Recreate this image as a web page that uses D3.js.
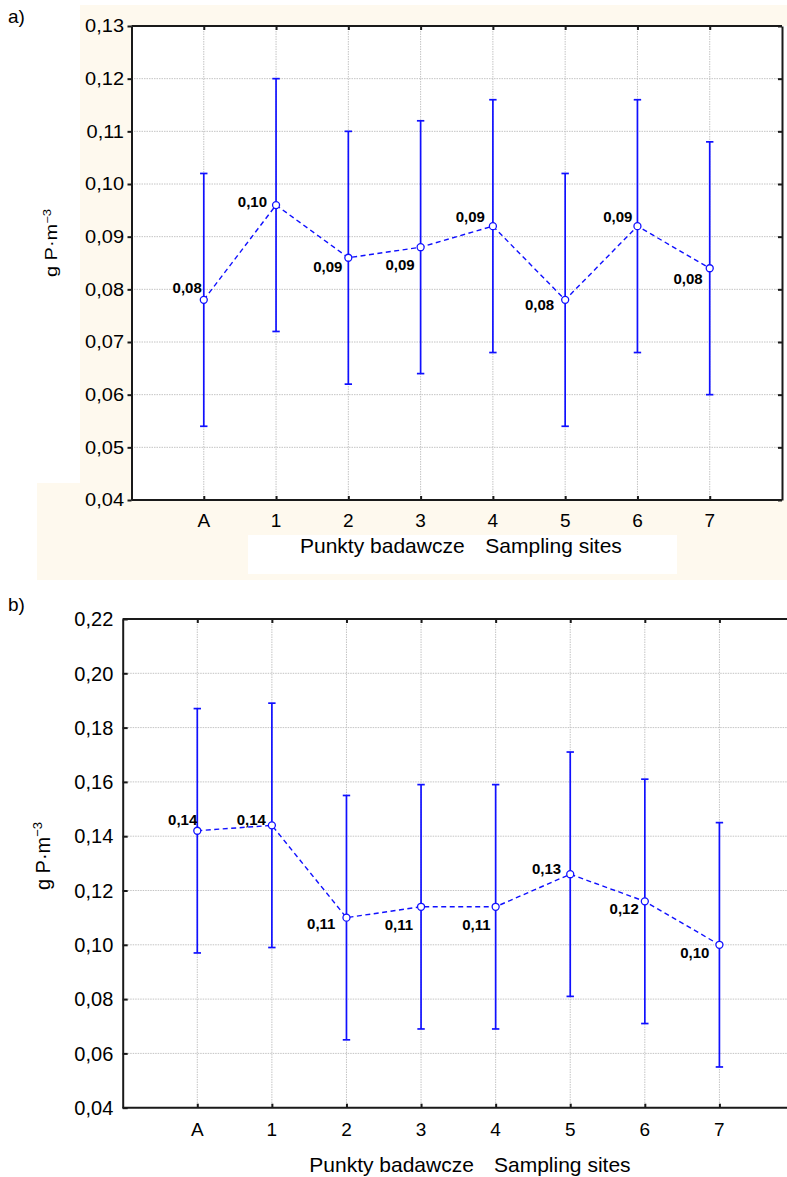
<!DOCTYPE html>
<html>
<head>
<meta charset="utf-8">
<script src="https://cdn.jsdelivr.net/npm/d3@7"></script>
<style>
  html, body { margin: 0; padding: 0; background: #ffffff; }
  svg { display: block; }
  text { font-family: "Liberation Sans", Arial, sans-serif; fill: #000; }
</style>
</head>
<body>
<svg id="chart" width="787" height="1177"></svg>
<script>
// ---------- data ----------
const categories = ["A", "1", "2", "3", "4", "5", "6", "7"];

const meansA = [0.078, 0.096, 0.086, 0.088, 0.092, 0.078, 0.092, 0.084];
const lowA   = [0.054, 0.072, 0.062, 0.064, 0.068, 0.054, 0.068, 0.060];
const highA  = [0.102, 0.120, 0.110, 0.112, 0.116, 0.102, 0.116, 0.108];
const pointLabelsA = ["0,08", "0,10", "0,09", "0,09", "0,09", "0,08", "0,09", "0,08"];
const yTicksA = [0.04, 0.05, 0.06, 0.07, 0.08, 0.09, 0.10, 0.11, 0.12, 0.13];

const meansB = [0.142, 0.144, 0.110, 0.114, 0.114, 0.126, 0.116, 0.100];
const lowB   = [0.097, 0.099, 0.065, 0.069, 0.069, 0.081, 0.071, 0.055];
const highB  = [0.187, 0.189, 0.155, 0.159, 0.159, 0.171, 0.161, 0.145];
const pointLabelsB = ["0,14", "0,14", "0,11", "0,11", "0,11", "0,13", "0,12", "0,10"];
const yTicksB = [0.04, 0.06, 0.08, 0.10, 0.12, 0.14, 0.16, 0.18, 0.20, 0.22];

const xTitlePL = "Punkty badawcze";
const xTitleEN = "Sampling sites";

// ---------- layout (label placement offsets, not data) ----------
const labelOffsetA = [[-2,-7],[-9,2],[-6,14],[-6,23],[-8,-4],[-11,10],[-5,-4],[-7,16]];
const labelOffsetB = [[0,-6],[-6,0],[-11,11],[-8,23],[-5,23],[-9,0],[-6,13],[-10,13]];

const BLUE = "#1010ff";
const CREAM = "#fef9ee";
const svg = d3.select("#chart");
const fmt = v => d3.format(".2f")(v).replace(".", ",");

// cream background for panel a
svg.append("rect").attr("x", 80).attr("y", 5).attr("width", 707).attr("height", 575).attr("fill", CREAM);
svg.append("rect").attr("x", 37).attr("y", 483).attr("width", 43).attr("height", 97).attr("fill", CREAM);
svg.append("rect").attr("x", 248).attr("y", 535).attr("width", 429).attr("height", 39).attr("fill", "#ffffff");

function panel(cfg) {
  const g = svg.append("g");
  const x = d3.scalePoint().domain(categories).range([cfg.left, cfg.right]).padding(1);
  const y = d3.scaleLinear().domain(cfg.yDomain).range([cfg.bottom, cfg.top]);
  const W = Math.min(cfg.right, 787);

  // white plot area
  g.append("rect").attr("x", cfg.left).attr("y", cfg.top)
    .attr("width", 787 - cfg.left).attr("height", cfg.bottom - cfg.top).attr("fill", "#fff");

  // grid
  g.append("g").selectAll("line").data(cfg.yTicks).join("line")
    .attr("x1", cfg.left).attr("x2", W).attr("y1", d => y(d)).attr("y2", d => y(d))
    .attr("stroke", "#c4c4c4").attr("stroke-width", 1).attr("stroke-dasharray", "1.5,1");
  g.append("g").selectAll("line").data(categories).join("line")
    .attr("x1", d => x(d)).attr("x2", d => x(d)).attr("y1", cfg.top).attr("y2", cfg.bottom)
    .attr("stroke", "#c4c4c4").attr("stroke-width", 1).attr("stroke-dasharray", "1.5,1");

  // axes via d3
  const yAxis = d3.axisLeft(y).tickValues(cfg.yTicks).tickFormat("").tickSizeInner(cfg.leftTickOut ? 4 : -5).tickSizeOuter(0);
  g.append("g").attr("transform", `translate(${cfg.left},0)`).call(yAxis)
    .call(s => s.selectAll("line,path").attr("stroke", "#1a1a1a").attr("stroke-width", 2));
  const xAxis = d3.axisBottom(x).tickFormat("").tickSizeInner(-4).tickSizeOuter(0);
  g.append("g").attr("transform", `translate(0,${cfg.bottom})`).call(xAxis)
    .call(s => s.select("path").attr("d", `M${cfg.left},0H${W}`))
    .call(s => s.selectAll("line,path").attr("stroke", "#1a1a1a").attr("stroke-width", 2));
  const xTop = d3.axisTop(x).tickFormat("").tickSizeInner(-4).tickSizeOuter(0);
  g.append("g").attr("transform", `translate(0,${cfg.top})`).call(xTop)
    .call(s => s.select("path").attr("d", `M${cfg.left},0H${W}`))
    .call(s => s.selectAll("line,path").attr("stroke", "#1a1a1a").attr("stroke-width", 2));
  if (cfg.right <= 787) {
    const yRight = d3.axisRight(y).tickValues(cfg.yTicks).tickFormat("").tickSizeInner(-4).tickSizeOuter(0);
    g.append("g").attr("transform", `translate(${cfg.right},0)`).call(yRight)
      .call(s => s.selectAll("line,path").attr("stroke", "#1a1a1a").attr("stroke-width", 2));
  }

  // y tick labels
  g.append("g").selectAll("text").data(cfg.yTicks).join("text")
    .attr("transform", d => `translate(${cfg.left - cfg.yLabelGap},${y(d) + cfg.yLabelShift}) scale(1,${cfg.yLabelScaleY})`)
    .attr("text-anchor", "end").attr("font-size", 20).text(fmt);

  // x tick labels
  g.append("g").selectAll("text").data(categories).join("text")
    .attr("x", d => x(d)).attr("y", cfg.xLabelY)
    .attr("text-anchor", "middle").attr("font-size", cfg.xLabelSize).text(d => d);

  // x title
  g.append("text").attr("x", cfg.xTitleX1).attr("y", cfg.xTitleY).attr("font-size", 21).text(xTitlePL);
  g.append("text").attr("x", cfg.xTitleX2).attr("y", cfg.xTitleY).attr("font-size", 21).text(xTitleEN);

  // y title
  const yt = g.append("text")
    .attr("transform", `translate(${cfg.yTitleX},${cfg.yTitleY}) rotate(-90) scale(1,${cfg.yTitleScale})`)
    .attr("text-anchor", "middle").attr("font-size", 20);
  yt.append("tspan").text("g P\u00b7m");
  yt.append("tspan").attr("font-size", 13).attr("dy", -8).text("\u22123");

  // panel letter
  g.append("text").attr("x", 8).attr("y", cfg.letterY).attr("font-size", 19).text(cfg.letter);

  const idx = d3.range(categories.length);
  // error bars
  const eb = g.append("g").attr("stroke", BLUE).attr("stroke-width", 1.7).attr("fill", "none");
  eb.selectAll("line.v").data(idx).join("line").attr("class", "v")
    .attr("x1", i => x(categories[i])).attr("x2", i => x(categories[i]))
    .attr("y1", i => y(cfg.low[i])).attr("y2", i => y(cfg.high[i]));
  eb.selectAll("line.t").data(idx).join("line").attr("class", "t")
    .attr("x1", i => x(categories[i]) - 3.7).attr("x2", i => x(categories[i]) + 3.7)
    .attr("y1", i => y(cfg.high[i])).attr("y2", i => y(cfg.high[i]));
  eb.selectAll("line.b").data(idx).join("line").attr("class", "b")
    .attr("x1", i => x(categories[i]) - 3.7).attr("x2", i => x(categories[i]) + 3.7)
    .attr("y1", i => y(cfg.low[i])).attr("y2", i => y(cfg.low[i]));

  // dashed mean line
  const line = d3.line().x(i => x(categories[i])).y(i => y(cfg.means[i]));
  g.append("path").attr("d", line(idx)).attr("fill", "none").attr("stroke", BLUE)
    .attr("stroke-width", 1.4).attr("stroke-dasharray", "5,3.5");

  // markers
  g.append("g").selectAll("circle").data(idx).join("circle")
    .attr("cx", i => x(categories[i])).attr("cy", i => y(cfg.means[i])).attr("r", 3.5)
    .attr("fill", "#fff").attr("stroke", BLUE).attr("stroke-width", 1.3);

  // value labels
  g.append("g").selectAll("text").data(idx).join("text")
    .attr("x", i => x(categories[i]) + cfg.offsets[i][0])
    .attr("y", i => y(cfg.means[i]) + cfg.offsets[i][1])
    .attr("text-anchor", "end").attr("font-size", 15).attr("font-weight", "bold")
    .text(i => cfg.labels[i]);
}

panel({
  letter: "a)", letterY: 23,
  left: 131.5, right: 782, top: 26, bottom: 500, yDomain: [0.04, 0.13], yTicks: yTicksA,
  means: meansA, low: lowA, high: highA, labels: pointLabelsA, offsets: labelOffsetA,
  leftTickOut: true, yLabelGap: 7.5, yLabelShift: 6.4, yLabelScaleY: 0.89,
  xLabelY: 527, xLabelSize: 19, xTitleX1: 300, xTitleX2: 485.3, xTitleY: 553,
  yTitleX: 57, yTitleY: 243, yTitleScale: 0.8
});

panel({
  letter: "b)", letterY: 611,
  left: 122.7, right: 794, top: 619, bottom: 1107.7, yDomain: [0.04, 0.22], yTicks: yTicksB,
  means: meansB, low: lowB, high: highB, labels: pointLabelsB, offsets: labelOffsetB,
  leftTickOut: false, yLabelGap: 9.4, yLabelShift: 7.2, yLabelScaleY: 1,
  xLabelY: 1136, xLabelSize: 19, xTitleX1: 309.3, xTitleX2: 494, xTitleY: 1171.5,
  yTitleX: 50, yTitleY: 856, yTitleScale: 1
});
</script>
</body>
</html>
